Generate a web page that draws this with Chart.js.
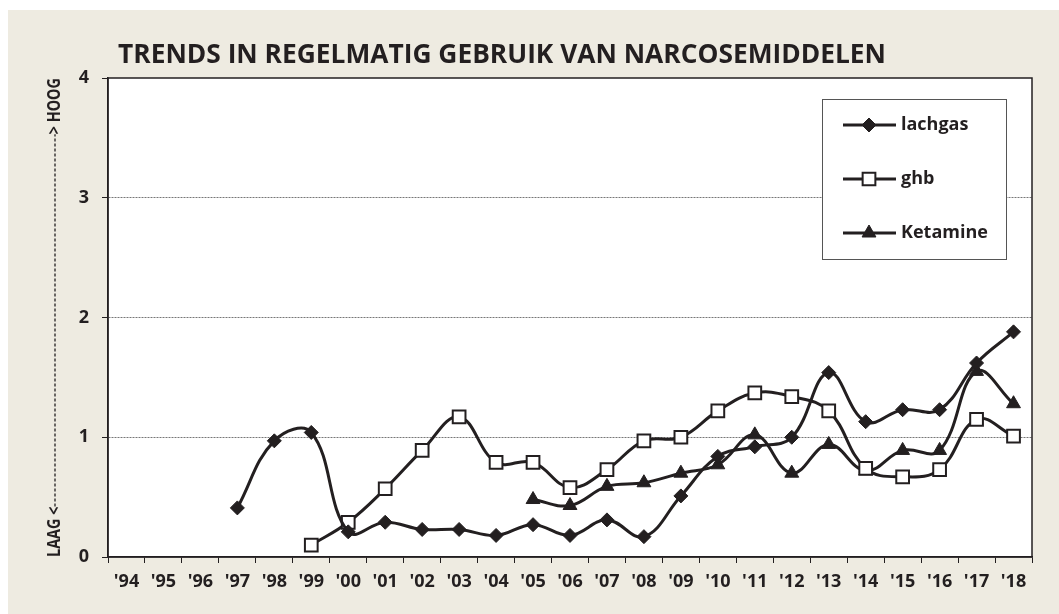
<!DOCTYPE html>
<html>
<head>
<meta charset="utf-8">
<script src="https://cdn.jsdelivr.net/npm/chart.js@4.4.1/dist/chart.umd.min.js"></script>
<style>
  html, body { margin: 0; padding: 0; background: #fff; }
  #wrap { position: absolute; left: 8px; top: 10px; width: 1051px; height: 604px; background: #eeebe1; }
</style>
</head>
<body>
<div id="wrap"><canvas id="chart" width="1051" height="604"></canvas></div>
<script>
const years = ["'94", "'95", "'96", "'97", "'98", "'99", "'00", "'01", "'02", "'03", "'04", "'05", "'06",
  "'07", "'08", "'09", "'10", "'11", "'12", "'13", "'14", "'15", "'16", "'17", "'18"];
const lachgas = [null, null, null, 0.41, 0.97, 1.04, 0.21, 0.29, 0.23, 0.23, 0.18, 0.27, 0.18,
  0.31, 0.17, 0.51, 0.84, 0.92, 1.00, 1.54, 1.13, 1.23, 1.23, 1.62, 1.88];
const ghb = [null, null, null, null, null, 0.10, 0.29, 0.57, 0.89, 1.17, 0.79, 0.79, 0.58,
  0.73, 0.97, 1.00, 1.22, 1.37, 1.34, 1.22, 0.74, 0.67, 0.73, 1.15, 1.01];
const ketamine = [null, null, null, null, null, null, null, null, null, null, null, 0.48, 0.43,
  0.59, 0.62, 0.70, 0.77, 1.02, 0.70, 0.94, 0.72, 0.89, 0.89, 1.55, 1.28];
const yTicks = [0, 1, 2, 3, 4];
const title = "TRENDS IN REGELMATIG GEBRUIK VAN NARCOSEMIDDELEN";

const ink = '#231f20';
const font = '"Open Sans", "DejaVu Sans", sans-serif';

// white plot area + frame, title, axis label and the boxed legend
const decor = {
  id: 'decor',
  beforeDraw(chart) {
    const { ctx, chartArea: a } = chart;
    ctx.save();
    ctx.fillStyle = '#fff';
    ctx.fillRect(a.left, a.top, a.right - a.left, a.bottom - a.top);
    ctx.restore();
  },
  afterDraw(chart) {
    const { ctx, chartArea: a } = chart;
    ctx.save();
    ctx.strokeStyle = ink;
    ctx.lineWidth = 1.5;
    ctx.strokeRect(a.left, a.top, a.right - a.left, a.bottom - a.top);

    // title, squeezed to the width of the original
    ctx.font = 'bold 26px ' + font;
    ctx.fillStyle = ink;
    ctx.textBaseline = 'alphabetic';
    const w = ctx.measureText(title).width;
    ctx.save();
    ctx.translate(110, 53);
    ctx.scale(768 / w, 1);
    ctx.fillText(title, 0, 0);
    ctx.restore();

    // vertical axis label (text slightly narrowed, like the original)
    const sq = 0.8;
    ctx.save();
    ctx.translate(47, 0);
    ctx.rotate(-Math.PI / 2);
    ctx.font = 'bold 18px ' + font;
    ctx.textBaseline = 'middle';
    const lw = ctx.measureText('LAAG <').width * sq;
    const hw = ctx.measureText('> HOOG').width * sq;
    ctx.save();
    ctx.scale(sq, 1);
    ctx.textAlign = 'left';
    ctx.fillText('LAAG <', -547 / sq, 0);
    ctx.textAlign = 'right';
    ctx.fillText('> HOOG', -68 / sq, 0);
    ctx.restore();
    ctx.setLineDash([3, 2]);
    ctx.lineWidth = 1.3;
    ctx.beginPath();
    ctx.moveTo(-547 + lw, 0);
    ctx.lineTo(-68 - hw, 0);
    ctx.stroke();
    ctx.restore();

    // legend box
    ctx.fillStyle = '#fff';
    ctx.fillRect(814, 89, 184, 160);
    ctx.strokeStyle = '#555';
    ctx.lineWidth = 1;
    ctx.strokeRect(814.5, 89.5, 184, 160);
    const rows = [115, 169, 223];
    chart.data.datasets.forEach((ds, i) => {
      const y = rows[i];
      ctx.strokeStyle = ink;
      ctx.lineWidth = 3;
      ctx.beginPath();
      ctx.moveTo(835, y);
      ctx.lineTo(888, y);
      ctx.stroke();
      ctx.fillStyle = ds.pointBackgroundColor;
      ctx.strokeStyle = ink;
      ctx.lineWidth = ds.pointBorderWidth;
      Chart.helpers.drawPoint(ctx, { pointStyle: ds.pointStyle, radius: ds.pointRadius, rotation: 0, borderWidth: ds.pointBorderWidth }, 861, y);
      ctx.fillStyle = ink;
      ctx.font = 'bold 18px ' + font;
      ctx.textAlign = 'left';
      ctx.textBaseline = 'middle';
      ctx.fillText(ds.label, 893, y);
    });
    ctx.restore();
  }
};

const lineStyle = { borderColor: ink, borderWidth: 3, tension: 0.4, pointBorderColor: ink, pointHoverRadius: 7 };

new Chart(document.getElementById('chart'), {
  type: 'line',
  data: {
    labels: years,
    datasets: [
      Object.assign({ label: 'lachgas', data: lachgas, pointStyle: 'rectRot', pointRadius: 7,
        pointBackgroundColor: ink, pointBorderWidth: 1 }, lineStyle),
      Object.assign({ label: 'ghb', data: ghb, pointStyle: 'rect', pointRadius: 9,
        pointBackgroundColor: '#fff', pointBorderWidth: 2 }, lineStyle),
      Object.assign({ label: 'Ketamine', data: ketamine, pointStyle: 'triangle', pointRadius: 8,
        pointBackgroundColor: ink, pointBorderWidth: 1 }, lineStyle)
    ]
  },
  options: {
    responsive: false,
    devicePixelRatio: 1,
    animation: false,
    layout: { padding: { top: 68, right: 27, left: 0, bottom: 0 } },
    plugins: { legend: { display: false }, title: { display: false }, tooltip: { enabled: false } },
    scales: {
      x: {
        offset: true,
        afterFit(s) { s.height = 57; },
        grid: { offset: true, drawOnChartArea: false, tickLength: 6, tickColor: ink, lineWidth: 1 },
        border: { display: true, color: ink, width: 1.5 },
        ticks: { color: ink, font: { family: font, size: 18, weight: 'bold' }, padding: 8, maxRotation: 0, autoSkip: false }
      },
      y: {
        min: 0,
        max: 4,
        afterFit(s) { s.width = 100; },
        afterBuildTicks(s) { s.ticks = yTicks.map(v => ({ value: v })); },
        grid: {
          color: c => (c.tick && (c.tick.value === 0 || c.tick.value === 4)) ? 'rgba(0,0,0,0)' : '#777',
          tickColor: ink, tickLength: 6, lineWidth: 1
        },
        border: { display: true, color: ink, width: 1.5, dash: [2, 1] },
        ticks: { color: ink, font: { family: font, size: 18, weight: 'bold' }, padding: 13 }
      }
    }
  },
  plugins: [decor]
});
</script>
</body>
</html>
